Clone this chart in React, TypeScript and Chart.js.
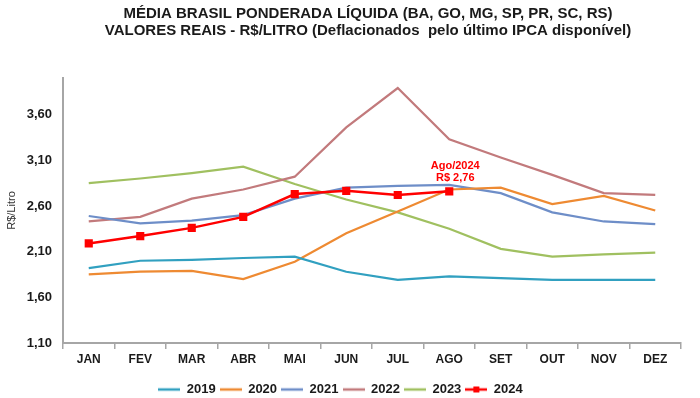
import React, { useEffect, useRef } from "react";
import { Chart, registerables } from "chart.js";

Chart.register(...registerables);

const months = ["JAN", "FEV", "MAR", "ABR", "MAI", "JUN", "JUL", "AGO", "SET", "OUT", "NOV", "DEZ"];
const yTicks = [1.1, 1.6, 2.1, 2.6, 3.1, 3.6];

const s2019 = [1.92, 2.0, 2.01, 2.03, 2.045, 1.88, 1.79, 1.83, 1.81, 1.79, 1.79, 1.79];
const s2020 = [1.85, 1.88, 1.89, 1.8, 1.99, 2.3, 2.54, 2.78, 2.8, 2.62, 2.71, 2.55];
const s2021 = [2.49, 2.41, 2.44, 2.5, 2.68, 2.8, 2.82, 2.83, 2.74, 2.53, 2.43, 2.4];
const s2022 = [2.43, 2.48, 2.68, 2.78, 2.92, 3.46, 3.89, 3.33, 3.13, 2.94, 2.74, 2.72];
const s2023 = [2.85, 2.9, 2.96, 3.03, 2.84, 2.67, 2.53, 2.35, 2.13, 2.045, 2.07, 2.09];
const s2024 = [2.19, 2.27, 2.36, 2.48, 2.73, 2.765, 2.72, 2.76];

const titleLines = [
  "MÉDIA BRASIL PONDERADA LÍQUIDA (BA, GO, MG, SP, PR, SC, RS)",
  "VALORES REAIS - R$/LITRO (Deflacionados  pelo último IPCA disponível)",
];
const annotLines = ["Ago/2024", "R$ 2,76"];
const annotIndex = 7;

const fmt = (v: number) => v.toFixed(2).replace(".", ",");

function makeLegendIcon(color: string, marker: boolean) {
  const c = document.createElement("canvas");
  c.width = 22;
  c.height = 8;
  const ctx = c.getContext("2d")!;
  ctx.strokeStyle = color;
  ctx.lineWidth = 2.5;
  ctx.beginPath();
  ctx.moveTo(0, 4);
  ctx.lineTo(22, 4);
  ctx.stroke();
  if (marker) {
    ctx.fillStyle = color;
    ctx.fillRect(8, 1, 6, 6);
  }
  return c;
}

export default function App() {
  const ref = useRef<HTMLCanvasElement>(null);
  useEffect(() => {
    const colors = ["#31A0C0", "#EE8A32", "#6E8EC8", "#C27A7C", "#A0C060", "#FF0000"];
    const series = [s2019, s2020, s2021, s2022, s2023, s2024];
    const names = ["2019", "2020", "2021", "2022", "2023", "2024"];
    const datasets = series.map((d, i) => ({
      label: names[i],
      data: d,
      borderColor: colors[i],
      backgroundColor: colors[i],
      borderWidth: i === 5 ? 2.5 : 2.2,
      pointRadius: i === 5 ? 4 : 0,
      pointStyle: "rect" as const,
      tension: 0,
      order: i === 5 ? 0 : 1,
    }));

    const titlePlugin = {
      id: "customTitle",
      afterDraw(chart: any) {
        const ctx = chart.ctx;
        ctx.save();
        ctx.fillStyle = "#1a1a1a";
        ctx.textAlign = "center";
        ctx.textBaseline = "middle";
        ctx.font = "bold 15px 'Liberation Sans', Arial, sans-serif";
        ctx.fillText(titleLines[0], 368, 14);
        ctx.fillText(titleLines[1], 368, 31);
        const x = chart.scales.x.getPixelForValue(annotIndex);
        const y = chart.scales.y.getPixelForValue(s2024[annotIndex]);
        ctx.fillStyle = "#FF0000";
        ctx.font = "bold 11px 'Liberation Sans', Arial, sans-serif";
        ctx.fillText(annotLines[0], x + 6, y - 25);
        ctx.fillText(annotLines[1], x + 6, y - 13);
        ctx.restore();
      },
    };

    const chart = new Chart(ref.current!, {
      type: "line",
      data: { labels: months, datasets },
      plugins: [titlePlugin],
      options: {
        animation: false,
        responsive: false,
        layout: { padding: { top: 78, right: 19, left: 0, bottom: -8 } },
        plugins: {
          title: { display: false },
          tooltip: { enabled: false },
          legend: {
            position: "bottom",
            labels: {
              usePointStyle: true,
              pointStyleWidth: 22,
              padding: 4,
              color: "#1a1a1a",
              font: { size: 13, weight: "bold", family: "'Liberation Sans', Arial, sans-serif" },
              generateLabels: (ch: any) =>
                ch.data.datasets.map((ds: any, i: number) => ({
                  text: ds.label,
                  fillStyle: ds.borderColor,
                  strokeStyle: ds.borderColor,
                  lineWidth: 0,
                  pointStyle: makeLegendIcon(ds.borderColor, i === 5),
                  datasetIndex: i,
                  hidden: false,
                  fontColor: "#1a1a1a",
                })),
            },
          },
        },
        scales: {
          x: {
            offset: true,
            grid: {
              display: true,
              drawOnChartArea: false,
              drawTicks: true,
              tickLength: 6,
              offset: true,
              color: "#A6A6A6",
              lineWidth: 1.5,
            },
            border: { display: true, color: "#A6A6A6", width: 2 },
            ticks: {
              color: "#1a1a1a",
              padding: 3,
              font: { size: 12, weight: "bold", family: "'Liberation Sans', Arial, sans-serif" },
            },
            afterFit: (s: any) => {
              s.height = 36;
            },
          },
          y: {
            min: 1.1,
            max: 4.0,
            afterBuildTicks: (s: any) => {
              s.ticks = yTicks.map((v) => ({ value: v }));
            },
            grid: { display: false, drawTicks: false },
            border: { display: true, color: "#A6A6A6", width: 2 },
            ticks: {
              color: "#1a1a1a",
              padding: 11,
              font: { size: 13, weight: "bold", family: "'Liberation Sans', Arial, sans-serif" },
              callback: (v: any) => fmt(Number(v)),
            },
            title: {
              display: true,
              text: "R$/Litro",
              color: "#333333",
              padding: { top: 5, bottom: 0 },
              font: { size: 11, family: "'Liberation Sans', Arial, sans-serif" },
            },
            afterFit: (s: any) => {
              s.width = 63;
            },
          },
        },
      },
    });
    return () => chart.destroy();
  }, []);
  return (
    <div style={{ position: "fixed", left: 0, top: 0, width: 700, height: 398, background: "#fff" }}>
      <canvas ref={ref} width={700} height={398} style={{ display: "block" }} />
    </div>
  );
}
